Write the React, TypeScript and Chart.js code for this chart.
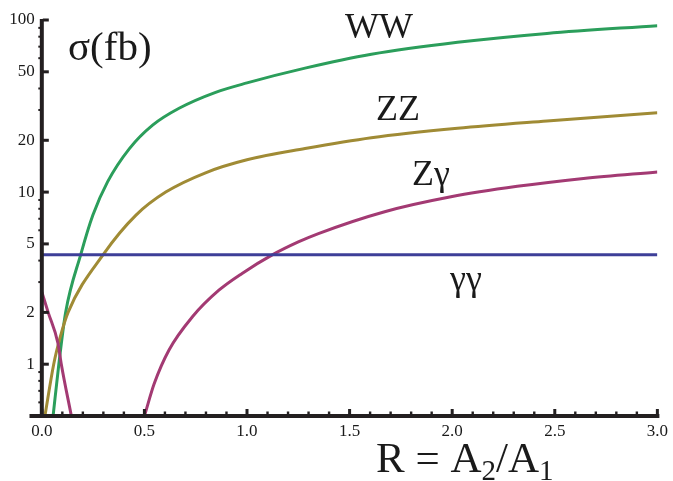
import { useEffect, useRef } from "react";
import { Chart, registerables } from "chart.js";

Chart.register(...registerables);

// ---- data ----
const wwR = [0.055, 0.083, 0.116, 0.19, 0.249, 0.321, 0.427, 0.54, 0.669, 0.847, 1.0, 1.283, 1.606, 2.026, 2.462, 3.0];
const wwV = [0.5, 1.0, 2.0, 4.35, 7.35, 11.5, 17.9, 24.5, 30.7, 38.0, 43.1, 52.5, 63.2, 74.2, 83.6, 92.7];

const zzR = [0.015, 0.058, 0.09, 0.128, 0.3, 0.459, 0.604, 0.798, 1.0, 1.283, 1.606, 2.026, 2.462, 3.0];
const zzV = [0.5, 1.0, 1.44, 2.0, 4.35, 7.35, 10.0, 12.95, 15.4, 17.9, 20.7, 23.5, 25.9, 28.9];

const zgLowR = [0.0, 0.031, 0.079, 0.095, 0.144];
const zgLowV = [2.63, 2.0, 1.32, 1.0, 0.5];

const zgHighR = [0.5, 0.548, 0.62, 0.733, 0.863, 0.976, 1.121, 1.25, 1.348, 1.671, 1.994, 2.317, 2.64, 3.0];
const zgHighV = [0.5, 0.772, 1.21, 1.88, 2.69, 3.37, 4.3, 5.13, 5.74, 7.69, 9.39, 10.8, 12.0, 13.1];

const ggR = [0.0, 3.0];
const ggV = [4.33, 4.33];

const xTicks = [0, 0.5, 1.0, 1.5, 2.0, 2.5, 3.0];
const xMinorTicks = [0.1, 0.2, 0.3, 0.4, 0.6, 0.7, 0.8, 0.9, 1.1, 1.2, 1.3, 1.4, 1.6, 1.7, 1.8, 1.9, 2.1, 2.2, 2.3, 2.4, 2.6, 2.7, 2.8, 2.9];
const yTicks = [1, 2, 5, 10, 20, 50, 100];
const yMinorTicks = [0.6, 0.7, 0.8, 0.9, 3, 4, 6, 7, 8, 9, 30, 40, 60, 70, 80, 90];

const GREEN = "#2b9e5b";
const OLIVE = "#a08b35";
const PINK = "#a33a73";
const BLUE = "#3e3f98";
const AXIS = "#231f20";
const FONT = "'Liberation Serif', 'DejaVu Serif', serif";

const pts = (xs: number[], ys: number[]) => xs.map((x, i) => ({ x, y: ys[i] }));

const decor = {
  id: "decor",
  afterDraw(chart: any) {
    const ctx = chart.ctx as CanvasRenderingContext2D;
    const xs = chart.scales.x;
    const ys = chart.scales.y;
    const x0 = xs.getPixelForValue(0);
    const yb = ys.getPixelForValue(0.5);
    ctx.save();
    ctx.fillStyle = AXIS;
    // axes
    ctx.fillRect(chart.chartArea.left, yb - 2, chart.chartArea.right + 2 - chart.chartArea.left, 4);
    ctx.fillRect(x0 - 2, ys.getPixelForValue(100) - 1, 4, yb - ys.getPixelForValue(100) + 1);
    // x ticks
    xTicks.forEach((v) => {
      const px = xs.getPixelForValue(v);
      ctx.fillRect(px - 1.5, yb - 7, 3, 6);
    });
    xMinorTicks.forEach((v) => {
      const px = xs.getPixelForValue(v);
      ctx.fillRect(px - 1.2, yb - 4.5, 2.4, 3);
    });
    // y ticks
    yTicks.forEach((v) => {
      const py = ys.getPixelForValue(v);
      ctx.fillRect(x0 + 1, py - 1.5, 6, 3);
    });
    yMinorTicks.forEach((v) => {
      const py = ys.getPixelForValue(v);
      ctx.fillRect(x0 - 3.5, py - 1, 2, 2);
    });

    // texts
    ctx.fillStyle = "#1a1a1a";
    ctx.textBaseline = "alphabetic";
    ctx.textAlign = "left";
    ctx.font = `41px ${FONT}`;
    ctx.fillText("σ(fb)", 68, 60);
    ctx.font = `36px ${FONT}`;
    ctx.fillText("WW", 345, 38);
    ctx.fillText("ZZ", 376, 120);
    ctx.fillText("Zγ", 412, 185);
    ctx.fillText("γγ", 450, 290);
    // axis title R = A2/A1
    let x = 376;
    const base = 472;
    const drawT = (t: string, size: number, dy: number) => {
      ctx.font = `${size}px ${FONT}`;
      ctx.fillText(t, x, base + dy);
      x += ctx.measureText(t).width;
    };
    drawT("R = A", 43, 0);
    drawT("2", 29, 8);
    drawT("/A", 43, 0);
    drawT("1", 29, 8);
    ctx.restore();
  },
};

export default function App() {
  const ref = useRef<HTMLCanvasElement>(null);
  useEffect(() => {
    if (!ref.current) return;
    const line = (data: any, color: string) => ({
      data,
      borderColor: color,
      backgroundColor: color,
      borderWidth: 3,
      pointRadius: 0,
      fill: false,
      cubicInterpolationMode: "monotone" as const,
    });
    const chart = new Chart(ref.current, {
      type: "line",
      data: {
        datasets: [
          line(pts(ggR, ggV), BLUE),
          line(pts(zgLowR, zgLowV), PINK),
          line(pts(zgHighR, zgHighV), PINK),
          line(pts(zzR, zzV), OLIVE),
          line(pts(wwR, wwV), GREEN),
        ],
      },
      options: {
        animation: false,
        responsive: false,
        devicePixelRatio: 1,
        layout: { padding: { left: 29.5, right: 12, top: 20, bottom: 0 } },
        plugins: { legend: { display: false }, tooltip: { enabled: false } },
        scales: {
          x: {
            type: "linear",
            min: -0.06,
            max: 3.0,
            position: "bottom",
            grid: { display: false, drawTicks: false },
            border: { display: false },
            afterBuildTicks: (s: any) => {
              s.ticks = xTicks.map((v) => ({ value: v }));
            },
            afterFit: (s: any) => {
              s.height = 65;
            },
            ticks: {
              padding: 5,
              color: "#1a1a1a",
              font: { family: FONT, size: 17 },
              callback: (v: any) => Number(v).toFixed(1),
              maxRotation: 0,
              autoSkip: false,
            },
          },
          y: {
            type: "logarithmic",
            min: 0.5,
            max: 100,
            position: { x: -0.034 } as any,
            grid: { display: false, drawTicks: false },
            border: { display: false },
            afterBuildTicks: (s: any) => {
              s.ticks = yTicks.map((v) => ({ value: v, major: true }));
            },
            ticks: {
              padding: 8,
              color: "#1a1a1a",
              font: { family: FONT, size: 17 },
              callback: (v: any) => String(v),
              autoSkip: false,
            },
          },
        },
      },
      plugins: [decor],
    });
    return () => chart.destroy();
  }, []);
  return (
    <div style={{ position: "fixed", left: 0, top: 0, width: 673, height: 481, background: "#fff" }}>
      <canvas ref={ref} width={673} height={481} style={{ width: 673, height: 481, display: "block" }} />
    </div>
  );
}
